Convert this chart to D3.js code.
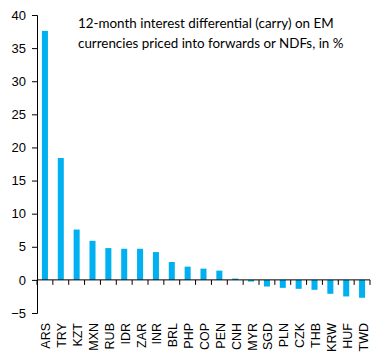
<!DOCTYPE html>
<html>
<head>
<meta charset="utf-8">
<script src="https://cdn.jsdelivr.net/npm/d3@7"></script>
<style>
  body { margin: 0; background: #fff; }
  svg text { font-family: "Liberation Sans", Arial, sans-serif; fill: #000; }
</style>
</head>
<body>
<div id="chart"></div>
<script>
// data
const currencies = ["ARS", "TRY", "KZT", "MXN", "RUB", "IDR", "ZAR", "INR", "BRL", "PHP", "COP",
    "PEN", "CNH", "MYR", "SGD", "PLN", "CZK", "THB", "KRW", "HUF", "TWD"];
const carry = [37.6, 18.4, 7.6, 5.9, 4.8, 4.7, 4.7, 4.2, 2.7, 2.0, 1.7,
    1.4, 0.2, -0.25, -1.0, -1.2, -1.35, -1.5, -2.1, -2.5, -2.7];
const yTicks = [-5, 0, 5, 10, 15, 20, 25, 30, 35, 40];
const titleLines = ["12-month interest differential (carry) on EM",
    "currencies priced into forwards or NDFs, in %"];

const width = 384,
    height = 361,
    margin = { top: 15, right: 14, bottom: 48, left: 37 };

const svg = d3.select("#chart")
    .append("svg")
    .attr("width", width)
    .attr("height", height);

// scales
const xScale = d3.scaleBand()
    .domain(currencies)
    .range([margin.left, width - margin.right])
    .paddingInner(0.62)
    .paddingOuter(0.31);

const yScale = d3.scaleLinear()
    .domain([-5, 40])
    .range([height - margin.bottom, margin.top]);

// y axis
svg.append("g")
    .attr("transform", `translate(${margin.left}, 0)`)
    .call(d3.axisLeft(yScale).tickValues(yTicks).tickSize(5).tickPadding(6))
    .call(g => g.selectAll("text").style("font-size", "13px"))
    .call(g => g.selectAll("line, path").attr("stroke", "#000"));

// bars
svg.selectAll("rect.bar")
    .data(currencies)
    .enter()
    .append("rect")
    .attr("class", "bar")
    .attr("x", d => xScale(d))
    .attr("y", (d, i) => yScale(Math.max(0, carry[i])))
    .attr("width", xScale.bandwidth())
    .attr("height", (d, i) => Math.abs(yScale(carry[i]) - yScale(0)))
    .attr("fill", "#00b0f0");

// x axis at zero with ticks between categories
const x0 = margin.left;
const boundaries = d3.range(currencies.length + 1).map(i => x0 + i * (width - margin.right - x0) / currencies.length);
const xAxis = svg.append("g");
xAxis.append("line")
    .attr("x1", margin.left).attr("x2", width - margin.right)
    .attr("y1", yScale(0)).attr("y2", yScale(0))
    .attr("stroke", "#000");
xAxis.selectAll("line.tick")
    .data(boundaries)
    .enter()
    .append("line")
    .attr("class", "tick")
    .attr("x1", d => d).attr("x2", d => d)
    .attr("y1", yScale(0)).attr("y2", yScale(0) + 5)
    .attr("stroke", "#000");

// category labels
svg.selectAll("text.cat")
    .data(currencies)
    .enter()
    .append("text")
    .attr("class", "cat")
    .attr("transform", d => `translate(${xScale(d) + xScale.bandwidth() / 2 + 5.5}, 323) rotate(-90)`)
    .attr("text-anchor", "end")
    .style("font-size", "12.5px")
    .text(d => d);

// title
svg.append("g")
    .selectAll("text")
    .data(titleLines)
    .enter()
    .append("text")
    .attr("x", 78)
    .attr("y", (d, i) => 28 + i * 20)
    .style("font-family", "Lato, 'Open Sans', sans-serif")
    .style("font-size", "13.4px")
    .text(d => d);
</script>
</body>
</html>
